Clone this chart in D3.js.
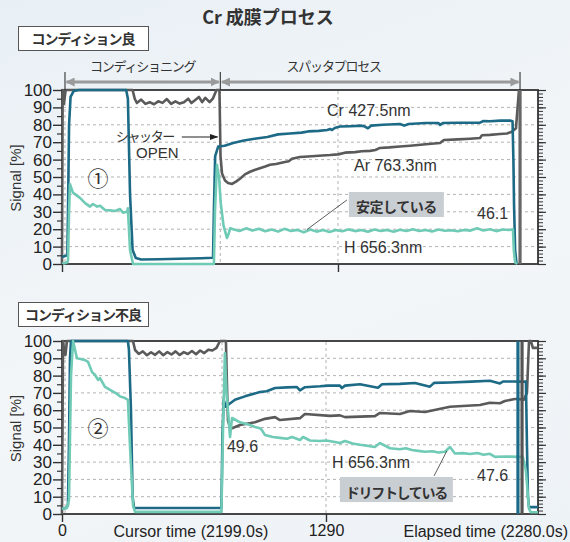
<!DOCTYPE html>
<html>
<head>
<meta charset="utf-8">
<script src="https://cdn.jsdelivr.net/npm/d3@7"></script>
<style>
  html, body { margin: 0; height: 100%; }
  body { background: linear-gradient(160deg, #e9f0f5 0%, #f3f6f9 55%, #edf2f6 100%) no-repeat; min-height: 100vh; }
  svg { display: block; }
  svg text { font-family: "Liberation Sans", Arial, sans-serif; fill: #333; }
  svg text.jp { font-family: "Noto Sans CJK JP", sans-serif; }
</style>
</head>
<body>
<svg id="chart"></svg>
<script>
// ---- data (time in seconds, signal in %) ----
const yTicks = [0, 10, 20, 30, 40, 50, 60, 70, 80, 90, 100];
const xTicks = [0, 1290];
const phaseTimes = [14, 740, 2141];          // conditioning start, shutter open, end
const phaseLabels = ["コンディショニング", "スパッタプロセス"];
const seriesNames = ["Cr 427.5nm", "Ar 763.3nm", "H 656.3nm"];

const topMarkTimes = [14, 740, 1290];
const topCursorTimes = [2141];
const topCr = [[0,4],[25,5],[28,30],[33,80],[40,96],[55,99.5],[80,100],[300,100],[308,95],[318,40],[330,8],[345,3.5],[370,2.6],[450,2.7],[550,3],[650,3.3],[706,3.6],[710,30],[716,62],[730,67.5],[760,68],[800,69.5],[850,71],[900,72],[960,73],[1010,74.5],[1066,75],[1120,75.5],[1150,76.2],[1200,76.5],[1240,77],[1253,77.6],[1262,77],[1275,78.2],[1299,79],[1350,79.2],[1400,79.5],[1416,79],[1430,78],[1445,79.5],[1500,80],[1580,80.5],[1600,79.5],[1620,80.5],[1700,81],[1760,81],[1767,80],[1780,81],[1850,81.2],[1954,81.2],[1970,82.2],[2000,82],[2050,82.4],[2094,82.4],[2106,82],[2110,60],[2113,34],[2118,8],[2124,1],[2130,0.5]];
const topAr = [[0,0],[3,100],[9,92],[17,100],[330,100],[340,95],[350,92.5],[370,94.5],[390,92],[410,93],[430,91.8],[450,93.5],[470,92.6],[490,94.8],[510,92],[530,93.5],[550,92.2],[570,93],[590,95],[605,92.5],[620,94],[640,96],[655,93],[670,95.5],[690,93],[705,95],[722,100],[736,100],[741,62],[748,52],[762,48],[776,46.5],[795,46],[815,47.5],[832,49],[855,51.5],[879,53],[900,54],[925,55],[950,56],[972,57],[1000,57.5],[1042,58.6],[1060,59],[1075,60.5],[1112,61.5],[1150,61.8],[1200,62.2],[1253,62.6],[1290,63],[1323,64],[1370,64.3],[1400,64.8],[1440,65],[1465,65.5],[1486,66.7],[1530,67],[1580,67.5],[1627,68],[1700,68.8],[1767,69.5],[1785,71.3],[1850,71.6],[1907,72],[1954,72.4],[1963,74],[2000,74.2],[2047,74.7],[2080,75],[2103,76],[2122,78],[2136,100]];
const topH = [[0,0],[25,1],[28,2],[33,30],[37,46],[51,41],[84,38],[108,35],[131,33],[145,34.5],[164,33],[178,33.5],[201,31],[225,30.8],[248,30.5],[271,31.6],[285,29.5],[304,30],[308,32],[318,8],[332,0],[710,0],[715,30],[724,57],[734,50],[742,35],[755,22],[771,15],[778,17],[786,20.5],[800,20],[830,19],[860,20.5],[890,19.2],[920,20.3],[950,18.8],[980,19.8],[1010,18.6],[1040,20.2],[1070,19],[1100,19.6],[1130,18.2],[1160,19.8],[1190,18.6],[1220,19.5],[1250,18.4],[1280,19.6],[1310,18.8],[1340,19.9],[1370,18.9],[1400,19.5],[1430,18.5],[1460,19.8],[1490,19],[1520,19.6],[1550,18.6],[1580,19.7],[1610,19],[1640,20],[1670,19],[1700,19.5],[1730,18.7],[1760,19.8],[1790,19.1],[1820,19.4],[1850,18.8],[1880,19.6],[1910,19.2],[1940,20.5],[1970,19.3],[2000,20],[2030,18.9],[2060,19.8],[2090,19.5],[2108,20],[2112,8],[2118,1],[2128,0]];

const botMarkTimes = [15, 782, 1290];
const botCursorTimes = [2228, 2248];
const botCr = [[0,3],[20,3.5],[29,5],[34,40],[39,90],[44,100],[322,100],[327,95],[337,60],[345,10],[352,3.5],[500,3.5],[650,3.5],[779,3.5],[784,45],[790,66],[800,62],[811,63],[845,66],[894,68],[967,70.5],[1000,71],[1041,72.8],[1100,73.2],[1148,73.4],[1163,71.5],[1187,73.3],[1261,73.8],[1300,74.2],[1358,74.2],[1368,72.8],[1383,74.2],[1456,75],[1544,73],[1564,75],[1651,75.2],[1725,75.7],[1798,73.6],[1818,75.8],[1896,76],[2000,76.5],[2091,77],[2140,75.5],[2155,76.6],[2213,76.6],[2228,76.5],[2257,76.5],[2267,76.5],[2272,40],[2277,10],[2282,4],[2326,4]];
const botAr = [[0,0],[5,100],[10,95],[17,92],[24,100],[347,100],[357,94.8],[375,92.5],[395,94],[415,91.8],[435,93.5],[455,92],[475,94],[495,91.8],[515,93.6],[535,92.2],[555,94],[575,91.9],[595,93.6],[615,92.5],[635,94.2],[655,92.3],[675,94.5],[695,93],[715,95],[735,94.5],[755,96],[772,100],[801,100],[806,75],[811,54],[821,50],[831,49.6],[870,51.4],[943,53],[992,55],[1041,56],[1065,54.3],[1163,55.4],[1187,57.8],[1309,56.7],[1358,57],[1383,56],[1529,56.6],[1554,58.4],[1651,57.8],[1700,59.5],[1774,59],[1896,62],[2042,63],[2091,64.3],[2140,64],[2164,65.3],[2213,66.5],[2228,66.5],[2257,66],[2272,70],[2282,100],[2291,100],[2301,96],[2326,96]];
const botH = [[0,3],[24,3.5],[34,8],[44,80],[54,100],[73,90],[112,89],[127,88],[147,82],[161,80.5],[176,77.5],[186,78.6],[210,73.5],[235,71.7],[269,69.4],[283,68],[308,67],[322,66],[332,40],[347,5],[357,1.2],[779,1.2],[787,50],[796,93],[804,70],[811,60],[821,44.5],[831,55.5],[870,53],[919,51.4],[943,50.3],[967,49.5],[977,48.5],[992,45.6],[1030,44.5],[1065,44],[1100,43.5],[1124,44.5],[1163,42.8],[1178,44.5],[1212,42.5],[1261,42.2],[1290,42.5],[1334,41.6],[1358,41],[1383,42.2],[1420,40.8],[1456,40],[1490,39.5],[1529,38.7],[1554,41],[1603,38],[1651,37.4],[1680,38],[1710,37],[1740,36.5],[1774,36],[1810,36.3],[1840,35.5],[1871,36],[1896,38.7],[1920,35],[1960,35.2],[1994,34.7],[2030,35.3],[2060,34.2],[2091,34.8],[2116,33],[2170,33.2],[2238,33],[2252,33],[2267,25],[2282,3],[2291,1],[2326,1]];

// ---- drawing ----
const width = 570, height = 542;
const colCr = "#1c6a86", colAr = "#5a5a5a", colH = "#6fcab6";

const svg = d3.select("#chart").attr("width", width).attr("height", height);

svg.append("text").attr("class", "jp")
  .attr("x", 268).attr("y", 24).attr("text-anchor", "middle")
  .style("font-size", "18px").style("font-weight", "bold")
  .text("Cr 成膜プロセス");

function conditionBox(y0, label) {
  svg.append("rect").attr("x", 18.5).attr("y", y0 + 0.5).attr("width", 130).attr("height", 24)
    .attr("fill", "#fff").attr("stroke", "#555").attr("stroke-width", 1);
  svg.append("text").attr("class", "jp")
    .attr("x", 83).attr("y", y0 + 17.5).attr("text-anchor", "middle")
    .style("font-size", "14px").style("font-weight", "bold").style("letter-spacing", "-1px")
    .text(label);
}

function drawPanel(cfg) {
  const x = d3.scaleLinear().domain([0, cfg.tMax]).range([62, 538]);
  const y = d3.scaleLinear().domain([0, 100]).range([cfg.y1, cfg.y0]);
  const g = svg.append("g");

  g.append("rect").attr("x", 62).attr("y", cfg.y0).attr("width", 476).attr("height", cfg.y1 - cfg.y0)
    .attr("fill", "#fff").attr("stroke", "#333").attr("stroke-width", 1.8);

  g.selectAll(".hgrid").data(yTicks.filter(d => d > 0 && d < 100)).join("line")
    .attr("x1", 63).attr("x2", 537).attr("y1", d => y(d)).attr("y2", d => y(d))
    .attr("stroke", "#b3b3b3").attr("stroke-dasharray", "3,3");
  g.selectAll(".vgrid").data(cfg.marks).join("line")
    .attr("x1", d => x(d)).attr("x2", d => x(d)).attr("y1", cfg.y0 + 1).attr("y2", cfg.y1 - 1)
    .attr("stroke", "#b3b3b3").attr("stroke-dasharray", "3,3");

  const line = d3.line().x(d => x(d[0])).y(d => y(d[1]));
  [[cfg.ar, colAr], [cfg.cr, colCr], [cfg.h, colH]].forEach(([data, c]) => {
    g.append("path").datum(data).attr("d", line)
      .attr("fill", "none").attr("stroke", c).attr("stroke-width", 2.6)
      .attr("stroke-linejoin", "round");
  });

  g.selectAll(".cursor").data(cfg.cursors).join("line")
    .attr("x1", d => x(d)).attr("x2", d => x(d)).attr("y1", cfg.y0).attr("y2", cfg.y1)
    .attr("stroke", (d, i) => cfg.cursorColors[i]).attr("stroke-width", 3.2);

  // left axis
  const left = g.append("g").attr("transform", "translate(62,0)")
    .call(d3.axisLeft(y).tickValues(yTicks).tickSize(9).tickPadding(1).tickSizeOuter(0));
  left.select(".domain").remove();
  left.selectAll("text").style("font-size", "17px").style("fill", "#222");
  left.selectAll("line").attr("stroke", "#333").attr("stroke-width", 1.4);
  const leftMinor = g.append("g").attr("transform", "translate(62,0)")
    .call(d3.axisLeft(y).tickValues(d3.range(5, 100, 10)).tickSize(5).tickFormat("").tickSizeOuter(0));
  leftMinor.select(".domain").remove();
  leftMinor.selectAll("line").attr("stroke", "#333").attr("stroke-width", 1.2);

  // right ruler
  const right = g.append("g").attr("transform", "translate(538,0)")
    .call(d3.axisRight(y).tickValues(d3.range(0, 101, 2)).tickSize(5).tickFormat("").tickSizeOuter(0));
  right.select(".domain").remove();
  right.selectAll("line").attr("stroke", "#333").attr("stroke-width", 1);
  const rightMajor = g.append("g").attr("transform", "translate(538,0)")
    .call(d3.axisRight(y).tickValues(yTicks).tickSize(8).tickFormat("").tickSizeOuter(0));
  rightMajor.select(".domain").remove();
  rightMajor.selectAll("line").attr("stroke", "#333").attr("stroke-width", 1.2);

  // bottom ticks
  const bottom = g.append("g").attr("transform", `translate(0,${cfg.y1})`)
    .call(d3.axisBottom(x).tickValues(xTicks).tickSize(8).tickPadding(3).tickSizeOuter(0)
      .tickFormat(cfg.showX ? d => d : ""));
  bottom.select(".domain").remove();
  bottom.selectAll("line").attr("stroke", "#333").attr("stroke-width", 1.4);
  bottom.selectAll("text").style("font-size", "16px").style("fill", "#222");

  // y label
  svg.append("text")
    .attr("transform", `translate(21,${(cfg.y0 + cfg.y1) / 2 + 1}) rotate(-90)`)
    .attr("text-anchor", "middle").style("font-size", "15px")
    .text("Signal [%]");

  return { x, y };
}

// ---- top panel ----
conditionBox(26, "コンディション良");
const topP = drawPanel({ y0: 90, y1: 264, tMax: 2225, cr: topCr, ar: topAr, h: topH,
  marks: topMarkTimes, cursors: topCursorTimes, cursorColors: ["#666"], showX: false });

// phase header
const defs = svg.append("defs");
defs.append("marker").attr("id", "ah").attr("viewBox", "0 0 10 10").attr("refX", 9).attr("refY", 5)
  .attr("markerWidth", 3).attr("markerHeight", 3).attr("orient", "auto-start-reverse")
  .append("path").attr("d", "M0,0 L10,5 L0,10 Z").attr("fill", "#9a9a9a");
defs.append("marker").attr("id", "ak").attr("viewBox", "0 0 10 10").attr("refX", 9).attr("refY", 5)
  .attr("markerWidth", 7).attr("markerHeight", 7).attr("orient", "auto")
  .append("path").attr("d", "M0,1.5 L10,5 L0,8.5 Z").attr("fill", "#222");

svg.selectAll(".phaseLine").data(phaseTimes).join("line")
  .attr("x1", d => topP.x(d)).attr("x2", d => topP.x(d)).attr("y1", 72).attr("y2", 90)
  .attr("stroke", "#222").attr("stroke-width", 1);
const phases = d3.pairs(phaseTimes);
svg.selectAll(".phaseArrow").data(phases).join("line")
  .attr("x1", d => topP.x(d[0]) + 1.5).attr("x2", d => topP.x(d[1]) - 1.5)
  .attr("y1", 82).attr("y2", 82)
  .attr("stroke", "#9a9a9a").attr("stroke-width", 3)
  .attr("marker-start", "url(#ah)").attr("marker-end", "url(#ah)");
svg.selectAll(".phaseLabel").data(phases).join("text").attr("class", "jp")
  .attr("x", (d, i) => i === 0 ? (topP.x(d[0]) + topP.x(d[1])) / 2 : topP.x(1270))
  .attr("y", 71).attr("text-anchor", "middle")
  .style("font-size", "13px").style("letter-spacing", "-1.2px")
  .text((d, i) => phaseLabels[i]);

// top annotations
svg.append("text").attr("class", "jp").attr("x", topP.x(168)).attr("y", topP.y(50))
  .attr("text-anchor", "middle").attr("dominant-baseline", "central")
  .style("font-size", "21px").text("①");
svg.append("text").attr("class", "jp").attr("x", topP.x(252)).attr("y", topP.y(70.8))
  .style("font-size", "13px").style("letter-spacing", "-1.4px").text("シャッター");
svg.append("line").attr("x1", topP.x(560)).attr("x2", topP.x(727)).attr("y1", topP.y(73)).attr("y2", topP.y(73))
  .attr("stroke", "#222").attr("stroke-width", 1.2).attr("marker-end", "url(#ak)");
svg.append("text").attr("x", topP.x(346)).attr("y", topP.y(60.8)).style("font-size", "15px").text("OPEN");
svg.append("text").attr("x", topP.x(1239)).attr("y", topP.y(85)).style("font-size", "16px").text(seriesNames[0]);
svg.append("text").attr("x", topP.x(1365)).attr("y", topP.y(53.4)).style("font-size", "16px").text(seriesNames[1]);
svg.append("text").attr("x", topP.x(1318)).attr("y", topP.y(6.3)).style("font-size", "16px").text(seriesNames[2]);
svg.append("text").attr("x", topP.x(1940)).attr("y", topP.y(25.9)).style("font-size", "16px").text("46.1");
svg.append("line").attr("x1", topP.x(1332)).attr("y1", topP.y(36.8)).attr("x2", topP.x(1145)).attr("y2", topP.y(19.8))
  .attr("stroke", "#333").attr("stroke-width", 0.8);
svg.append("rect").attr("x", topP.x(1341)).attr("y", topP.y(41.4))
  .attr("width", topP.x(1785) - topP.x(1341)).attr("height", topP.y(27) - topP.y(41.4)).attr("fill", "#c9ced3");
svg.append("text").attr("class", "jp").attr("x", (topP.x(1341) + topP.x(1785)) / 2).attr("y", topP.y(29.6))
  .attr("text-anchor", "middle").style("font-size", "14px").style("font-weight", "bold")
  .style("letter-spacing", "-0.5px").text("安定している");

// ---- bottom panel ----
conditionBox(302, "コンディション不良");
const botP = drawPanel({ y0: 341, y1: 514, tMax: 2326, cr: botCr, ar: botAr, h: botH,
  marks: botMarkTimes, cursors: botCursorTimes, cursorColors: [colCr, "#555"], showX: true });

svg.append("text").attr("class", "jp").attr("x", botP.x(176)).attr("y", botP.y(50.3))
  .attr("text-anchor", "middle").attr("dominant-baseline", "central")
  .style("font-size", "21px").text("②");
svg.append("text").attr("x", botP.x(806)).attr("y", botP.y(35.8)).style("font-size", "16px").text("49.6");
svg.append("text").attr("x", botP.x(1319)).attr("y", botP.y(26.6)).style("font-size", "16px").text(seriesNames[2]);
svg.append("text").attr("x", botP.x(2028)).attr("y", botP.y(19)).style("font-size", "16px").text("47.6");
svg.append("line").attr("x1", botP.x(1818)).attr("y1", botP.y(22)).attr("x2", botP.x(1881)).attr("y2", botP.y(36.5))
  .attr("stroke", "#333").attr("stroke-width", 0.8);
svg.append("rect").attr("x", botP.x(1358)).attr("y", botP.y(21.4))
  .attr("width", botP.x(1910) - botP.x(1358)).attr("height", botP.y(6.9) - botP.y(21.4)).attr("fill", "#c9ced3");
svg.append("text").attr("class", "jp").attr("x", (botP.x(1358) + botP.x(1910)) / 2).attr("y", botP.y(9.5))
  .attr("text-anchor", "middle").style("font-size", "14px").style("font-weight", "bold")
  .style("letter-spacing", "-1.3px").text("ドリフトしている");

svg.append("text").attr("x", botP.x(630)).attr("y", 537).attr("text-anchor", "middle")
  .style("font-size", "16px").style("fill", "#222").text("Cursor time (2199.0s)");
svg.append("text").attr("x", 568).attr("y", 537).attr("text-anchor", "end")
  .style("font-size", "16px").style("fill", "#222").text("Elapsed time (2280.0s)");
</script>
</body>
</html>
